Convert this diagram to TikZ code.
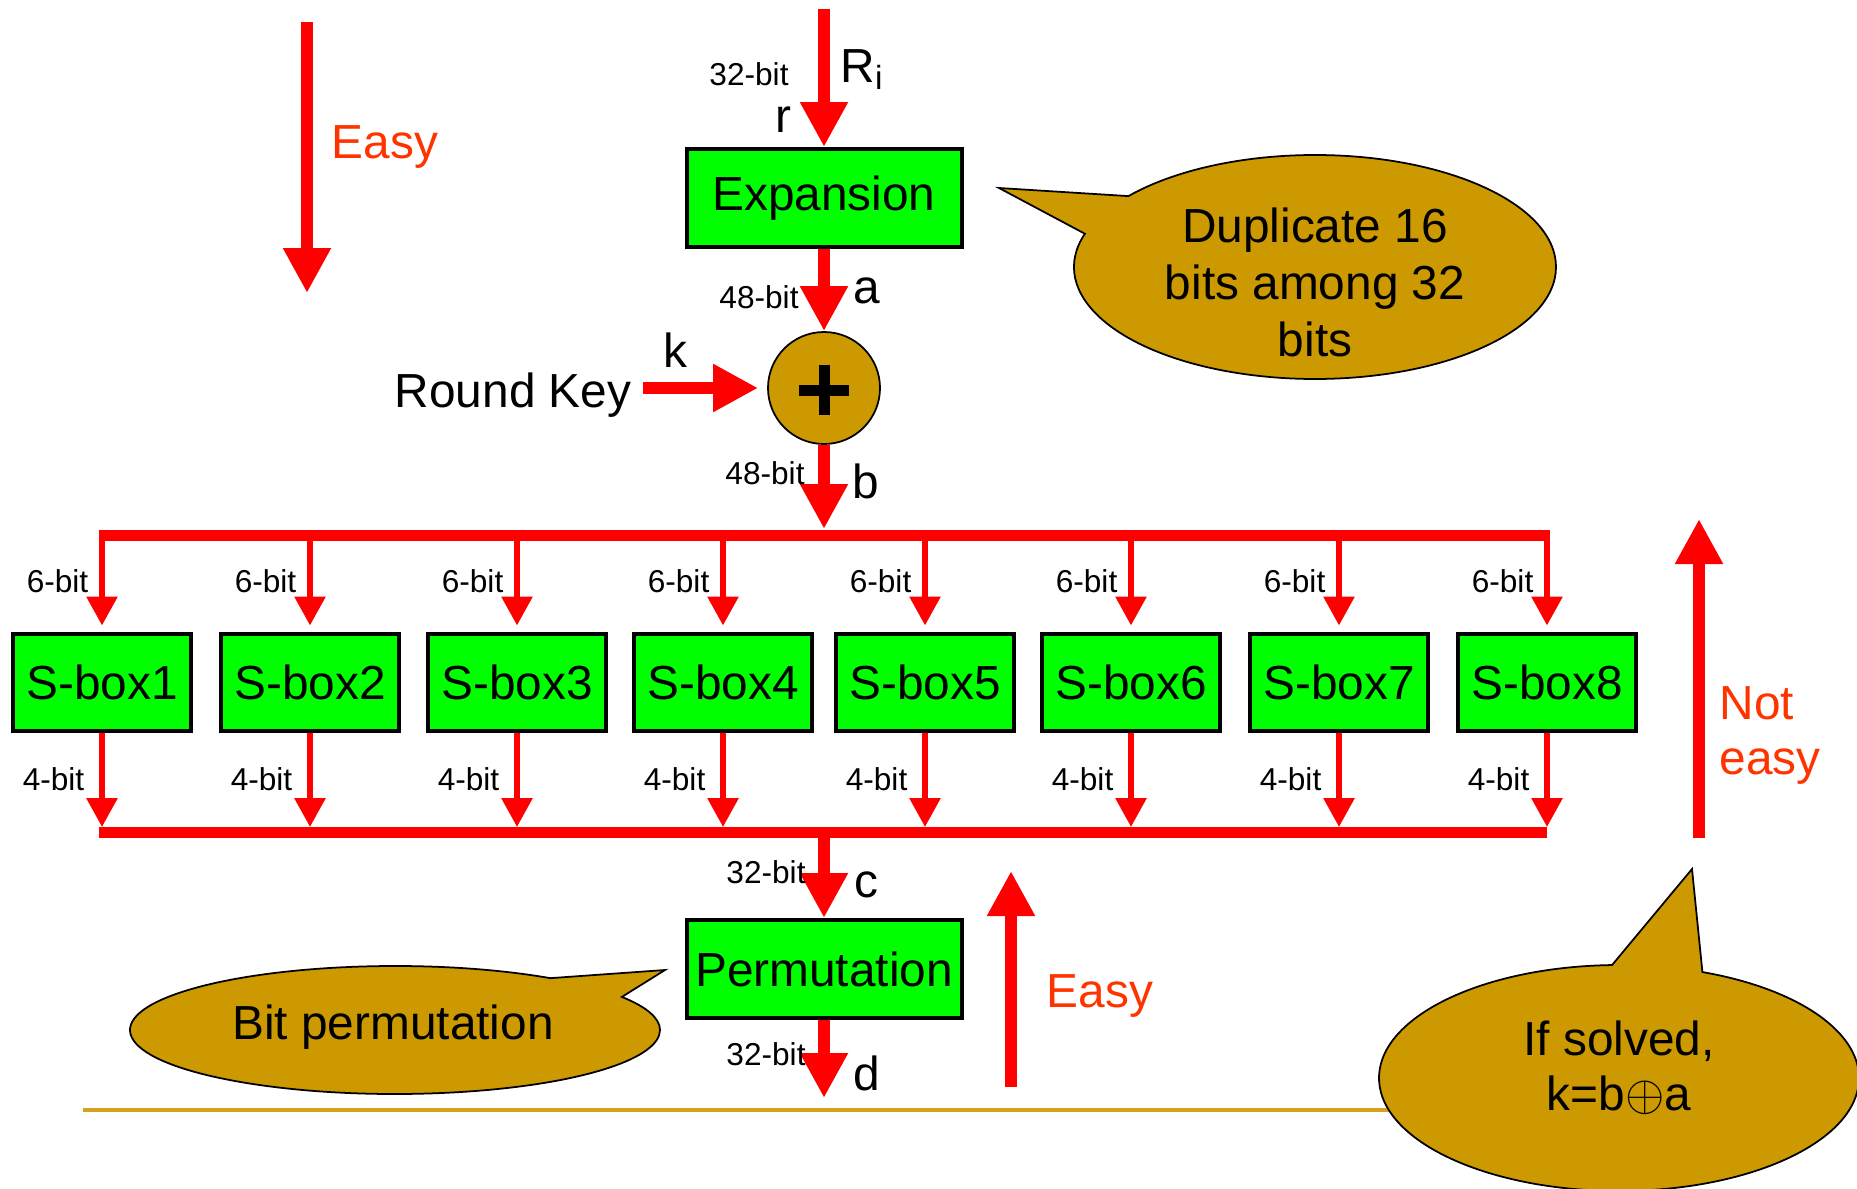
\documentclass[tikz,border=0pt]{standalone}
\usepackage{fontspec}
\setmainfont{Liberation Sans}
\usetikzlibrary{positioning,calc,arrows.meta,shapes.callouts}
\definecolor{boxgreen}{RGB}{0,255,0}
\definecolor{bubblegold}{RGB}{204,153,0}
\definecolor{rulegold}{RGB}{214,162,30}
\definecolor{hintred}{RGB}{255,51,0}
\tikzset{
  >={Triangle[length=4.5mm,width=4.5mm]},
  my big/.style={font=\fontsize{13.6pt}{15.7pt}\selectfont},
  my small/.style={font=\fontsize{9pt}{11pt}\selectfont},
  my box/.style={
    draw,
    line width=0.4mm,
    fill=boxgreen,
    inner sep=0pt,
    minimum width=2.75cm,
    minimum height=0.98cm,
    my big
  },
  my sbox/.style={my box,minimum width=1.78cm,minimum height=0.97cm},
  my xor/.style={circle,draw,fill=bubblegold,line width=0.5pt,minimum size=11.2mm,inner sep=0pt},
  my flow/.style={red,line width=1.2mm,->},
  my branch/.style={red,line width=0.6mm,-{Triangle[length=2.9mm,width=3mm]}},
  my bus/.style={red,line width=1.1mm},
  my bubble/.style={
    ellipse callout,
    draw,
    fill=bubblegold,
    line width=0.5pt,
    inner sep=0pt,
    callout pointer arc=22
  },
  my label/.style={inner sep=0pt},
  my note/.style={font=\fontsize{13.6pt}{16.2pt}\selectfont,inner sep=0pt,align=center},
  my hint/.style={my big,text=hintred,inner sep=0pt,align=left}
}

\begin{document}
\begin{tikzpicture}[x=0.1mm,y=-0.1mm]
\useasboundingbox (0,0) rectangle (1857,1188);
% Expansion of R_i
\coordinate (in) at (824,9);
\node[my box] (exp) at (824,198) {Expansion};
\draw[my flow] (in) -- (exp.north);
\node[my small,my label,anchor=base] at (749,85) {32-bit};
\node[my big,my label,anchor=base] at (783,132) {r};
\node[my big,my label,anchor=base west] at (840,82) {R\textsubscript{i}};
% XOR with the round key
\node[my xor] (xor) at (824,388) {};
\draw[line width=1.1mm] (xor.center) ++(-25,2) -- ++(50,0) (xor.center) ++(0,-23) -- ++(0,50);
\draw[my flow] (exp.south) -- (xor.north);
\node[my small,my label,anchor=base] at (759,308) {48-bit};
\node[my big,my label,anchor=base] at (867,303) {a};
\node[my big,my label,anchor=base east] (key) at (632,407) {Round Key};
\draw[my flow,shorten <=1.1mm,shorten >=0.9mm] (key.east |- xor.west) -- (xor.west);
\node[my big,my label,anchor=base] at (675,367) {k};
% Buses round the S-boxes
\coordinate (bus1 w) at (99,535);
\coordinate (bus1 e) at (1550,535);
\coordinate (bus2 w) at (99,832);
\coordinate (bus2 e) at (1547,832);
\draw[my bus] (bus1 w) -- (bus1 e);
\draw[my bus] (bus2 w) -- (bus2 e);
\draw[my flow,shorten >=0.6mm] (xor.south) -- (xor.south |- bus1 w);
\node[my small,my label,anchor=base] at (765,484) {48-bit};
\node[my big,my label,anchor=base] at (866,498) {b};
% S-boxes
\foreach \x [count=\i] in {102,310,517,723,925,1131,1339,1547} {
  \node[my sbox] (s\i) at (\x,682) {S-box\i};
  \draw[my branch,shorten >=0.6mm] (s\i.north |- bus1 w) -- (s\i.north);
  \node[my small,my label,anchor=base east] at (\x-13,592) {6-bit};
  \draw[my branch,shorten >=0.5mm] (s\i.south) -- (s\i.south |- bus2 w);
  \node[my small,my label,anchor=base east] at (\x-17,790) {4-bit};
}
% Permutation
\node[my box] (perm) at (824,969) {Permutation};
\coordinate (out) at (824,1098);
\draw[my flow] (perm.north |- bus2 w) -- (perm.north);
\draw[my flow] (perm.south) -- (out);
\node[my small,my label,anchor=base] at (766,883) {32-bit};
\node[my big,my label,anchor=base] at (866,897) {c};
\node[my small,my label,anchor=base] at (766,1065) {32-bit};
\node[my big,my label,anchor=base] at (867,1090) {d};
% Rule under the round
\coordinate (rule w) at (83,1110);
\coordinate (rule e) at (1620,1110);
\draw[rulegold,line width=0.4mm] (rule w) -- (rule e);
% Easy / not easy directions
\coordinate (easy1 s) at (307,22);
\coordinate (easy1 t) at (307,293);
\draw[my flow] (easy1 s) -- (easy1 t);
\node[my hint,anchor=base west] at (331,158) {Easy};
\coordinate (easy2 s) at (1011,1087);
\coordinate (easy2 t) at (1011,871);
\draw[my flow] (easy2 s) -- (easy2 t);
\node[my hint,anchor=base west] at (1046,1007) {Easy};
\coordinate (hard s) at (1699,838);
\coordinate (hard t) at (1699,519);
\draw[my flow] (hard s) -- (hard t);
\node[my hint,anchor=north west] at (1719,686) {Not\\easy};
% Callouts
\node[my bubble,minimum width=48.2mm,minimum height=22.4mm,
      callout absolute pointer={(999,188)}] (dup note) at (1315,267) {};
\node[my note,anchor=north] at (1315,207) {Duplicate 16\\bits among 32\\bits};
\node[my bubble,minimum width=53mm,minimum height=12.8mm,callout pointer arc=23,
      callout absolute pointer={(665,970)}] (perm note) at (395,1030) {};
\node[my big,my label,anchor=base] at (393,1039) {Bit permutation};
\node[my bubble,minimum width=48mm,minimum height=22.6mm,
      callout absolute pointer={(1692,869)}] (key note) at (1619,1078) {};
\node[my big,my label,align=center,anchor=north] at (1619,1020) {If solved,\\k=b$\oplus$a};
\end{tikzpicture}
\end{document}
